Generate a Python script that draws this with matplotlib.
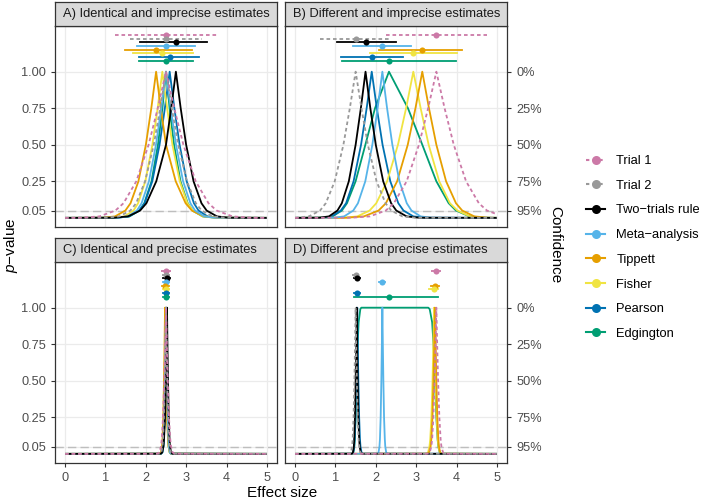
import matplotlib.pyplot as plt
from matplotlib.lines import Line2D
from matplotlib.patches import Rectangle

plt.rcParams["font.family"] = ["Liberation Sans", "DejaVu Sans"]
plt.rcParams["mathtext.fontset"] = "custom"
plt.rcParams["mathtext.rm"] = "Liberation Sans"
plt.rcParams["mathtext.it"] = "Liberation Sans:italic"

# legend order
methods = ["Trial 1", "Trial 2", "Two\u2212trials rule", "Meta\u2212analysis",
           "Tippett", "Fisher", "Pearson", "Edgington"]
colors = ["#CC79A7", "#999999", "#000000", "#56B4E9",
          "#E69F00", "#F0E442", "#0072B2", "#009E73"]

titles = ["A) Identical and imprecise estimates", "B) Different and imprecise estimates",
          "C) Identical and precise estimates", "D) Different and precise estimates"]

# p-values at which the lower / upper limits of each curve were read
levels = [0.001, 0.01, 0.05, 0.1, 0.25, 0.5, 0.75]

# A) identical, imprecise
est_a = [2.5, 2.5, 2.745, 2.5, 2.255, 2.409, 2.591, 2.5]
lo_a = [[0.394, 0.851, 1.246, 1.447, 1.764, 2.069, 2.296],
        [1.019, 1.341, 1.618, 1.760, 1.982, 2.197, 2.356],
        [1.215, 1.559, 1.859, 2.014, 2.259, 2.500, 2.629],
        [1.289, 1.552, 1.779, 1.895, 2.077, 2.252, 2.383],
        [0.934, 1.237, 1.493, 1.621, 1.817, 2.001, 2.136],
        [1.210, 1.470, 1.694, 1.808, 1.987, 2.163, 2.293],
        [1.280, 1.589, 1.833, 1.970, 2.160, 2.340, 2.472],
        [1.280, 1.593, 1.842, 1.962, 2.141, 2.301, 2.411]]
hi_a = [[2.704, 2.931, 3.236, 3.553, 3.754, 4.149, 4.606],
        [2.644, 2.803, 3.018, 3.240, 3.382, 3.659, 3.981],
        [2.864, 2.999, 3.183, 3.379, 3.507, 3.763, 4.066],
        [2.617, 2.748, 2.923, 3.105, 3.221, 3.448, 3.711],
        [2.371, 2.500, 2.741, 2.986, 3.141, 3.441, 3.785],
        [2.528, 2.660, 2.840, 3.030, 3.167, 3.411, 3.720],
        [2.707, 2.837, 3.013, 3.192, 3.306, 3.530, 3.790],
        [2.589, 2.699, 2.859, 3.038, 3.158, 3.407, 3.720]]

# B) different, imprecise
est_b = [3.5, 1.5, 1.745, 2.162, 3.151, 2.929, 1.899, 2.326]
lo_b = [[1.394, 1.851, 2.246, 2.447, 2.764, 3.069, 3.296],
        [0.019, 0.341, 0.618, 0.760, 0.982, 1.197, 1.356],
        [0.597, 0.839, 1.049, 1.158, 1.331, 1.500, 1.629],
        [0.951, 1.214, 1.441, 1.557, 1.739, 1.914, 2.045],
        [1.273, 1.704, 2.068, 2.249, 2.528, 2.791, 2.982],
        [1.211, 1.541, 1.846, 2.011, 2.280, 2.548, 2.750],
        [0.663, 0.915, 1.133, 1.263, 1.449, 1.634, 1.773],
        [0.664, 0.924, 1.158, 1.285, 1.499, 1.741, 1.980]]
hi_b = [[3.704, 3.931, 4.236, 4.553, 4.754, 5.149, 5.606],
        [1.644, 1.803, 2.018, 2.240, 2.382, 2.659, 2.981],
        [1.864, 1.999, 2.183, 2.379, 2.507, 2.763, 3.066],
        [2.279, 2.410, 2.585, 2.767, 2.883, 3.110, 3.373],
        [3.317, 3.500, 3.741, 3.986, 4.141, 4.441, 4.784],
        [3.111, 3.309, 3.571, 3.837, 4.022, 4.331, 4.690],
        [2.025, 2.167, 2.359, 2.558, 2.685, 2.931, 3.219],
        [2.796, 3.152, 3.500, 3.806, 3.986, 4.320, 4.689]]

# C) identical, precise
est_c = [2.5, 2.5, 2.525, 2.5, 2.476, 2.491, 2.509, 2.5]
lo_c = [[2.289, 2.335, 2.375, 2.395, 2.426, 2.457, 2.480],
        [2.352, 2.384, 2.412, 2.426, 2.448, 2.470, 2.486],
        [2.372, 2.406, 2.436, 2.451, 2.476, 2.500, 2.513],
        [2.379, 2.405, 2.428, 2.440, 2.458, 2.475, 2.488],
        [2.343, 2.374, 2.399, 2.412, 2.432, 2.450, 2.464],
        [2.371, 2.397, 2.419, 2.431, 2.449, 2.466, 2.479],
        [2.378, 2.409, 2.433, 2.447, 2.466, 2.484, 2.497],
        [2.378, 2.409, 2.434, 2.446, 2.464, 2.480, 2.491]]
hi_c = [[2.520, 2.543, 2.574, 2.605, 2.625, 2.665, 2.711],
        [2.514, 2.530, 2.552, 2.574, 2.588, 2.616, 2.648],
        [2.536, 2.550, 2.568, 2.588, 2.601, 2.626, 2.657],
        [2.512, 2.525, 2.542, 2.561, 2.572, 2.595, 2.621],
        [2.487, 2.500, 2.524, 2.549, 2.564, 2.594, 2.629],
        [2.503, 2.516, 2.534, 2.553, 2.567, 2.591, 2.622],
        [2.521, 2.534, 2.551, 2.569, 2.581, 2.603, 2.629],
        [2.509, 2.520, 2.536, 2.554, 2.566, 2.591, 2.622]]

# D) different, precise
est_d = [3.5, 1.5, 1.525, 2.162, 3.465, 3.443, 1.540, 2.33]
lo_d = [[3.289, 3.335, 3.375, 3.395, 3.426, 3.457, 3.480],
        [1.352, 1.384, 1.412, 1.426, 1.448, 1.470, 1.486],
        [1.410, 1.434, 1.455, 1.466, 1.483, 1.500, 1.513],
        [2.041, 2.067, 2.090, 2.102, 2.120, 2.137, 2.150],
        [3.277, 3.320, 3.357, 3.375, 3.403, 3.429, 3.448],
        [3.250, 3.293, 3.329, 3.348, 3.377, 3.405, 3.425],
        [1.416, 1.442, 1.463, 1.476, 1.495, 1.514, 1.527],
        [1.416, 1.442, 1.466, 1.479, 1.500, 1.525, 1.550]]
hi_d = [[3.520, 3.543, 3.574, 3.605, 3.625, 3.665, 3.711],
        [1.514, 1.530, 1.552, 1.574, 1.588, 1.616, 1.648],
        [1.536, 1.550, 1.568, 1.588, 1.601, 1.626, 1.657],
        [2.174, 2.187, 2.204, 2.223, 2.234, 2.257, 2.283],
        [3.482, 3.500, 3.524, 3.549, 3.564, 3.594, 3.628],
        [3.461, 3.481, 3.507, 3.534, 3.552, 3.583, 3.619],
        [1.553, 1.567, 1.587, 1.607, 1.620, 1.646, 1.676],
        [3.429, 3.465, 3.500, 3.531, 3.549, 3.582, 3.619]]
# Edgington in D has a flat top at p = 1
edg_top_d_x = [1.574, 1.616, 1.640, 3.300, 3.335, 3.396]
edg_top_d_p = [0.9, 0.99, 1.0, 1.0, 0.99, 0.9]

panels = [(est_a, lo_a, hi_a, None), (est_b, lo_b, hi_b, None),
          (est_c, lo_c, hi_c, None), (est_d, lo_d, hi_d, (edg_top_d_x, edg_top_d_p))]

W, H = 709, 500
fig = plt.figure(figsize=(W / 100, H / 100), dpi=100)

lefts = [55, 285, 55, 285]
tops = [26, 26, 262, 262]
pw, ph, sh = 222, 201, 24
lw = 1.3
dash = (2.0, 1.6)


def draw_curves(ax, est, lo, hi, edg_top):
    clip = Rectangle((0, -1), 5, 3, transform=ax.transData)
    order = [7, 6, 5, 4, 3, 2, 1, 0]  # trials end up on top
    for i in order:
        if i == 7 and edg_top is not None:
            tx, tp = edg_top
        else:
            tx, tp = [est[i]], [1.0]
        x = lo[i] + tx + hi[i]
        p = levels + tp + levels[::-1]
        if x[0] > 0:
            x, p = [0] + x, [0] + p
        if x[-1] < 5:
            x, p = x + [5], p + [0]
        ls = (0, dash) if i < 2 else "-"
        ln, = ax.plot(x, p, color=colors[i], lw=lw, ls=ls, zorder=3 + (8 - i) * 0.1)
        ln.set_clip_path(clip)
    # point estimates with 95% intervals above the curves
    for i in range(8):
        row = 1.25 - 0.025 * i
        ls = (0, dash) if i < 2 else "-"
        ax.plot([lo[i][2], hi[i][4]], [row, row], color=colors[i], lw=lw, ls=ls, zorder=4)
        ax.plot(est[i], row, "o", color=colors[i], ms=4.4, mew=0, zorder=5)


for k, (est, lo, hi, edg_top) in enumerate(panels):
    ax = fig.add_axes([lefts[k] / W, 1 - (tops[k] + ph) / H, pw / W, ph / H])
    ax.set_xlim(-0.25, 5.25)
    ax.set_ylim(-0.0625, 1.3125)
    ax.set_xticks(range(6))
    ax.set_yticks([0.05, 0.25, 0.5, 0.75, 1.0])
    ax.grid(color="#EBEBEB", lw=0.9)
    ax.set_axisbelow(True)
    ax.axhline(0.05, color="#BEBEBE", lw=1.0, dashes=(6, 3), zorder=2)
    for s in ax.spines.values():
        s.set_color("#333333")
        s.set_linewidth(0.9)
    ax.tick_params(colors="#333333", labelcolor="#4D4D4D", labelsize=9.2, length=3, width=0.8)
    if k < 2:
        ax.tick_params(bottom=False, labelbottom=False)
    if k % 2 == 0:
        ax.set_yticklabels(["0.05", "0.25", "0.50", "0.75", "1.00"])
    else:
        ax.yaxis.tick_right()
        ax.set_yticklabels(["95%", "75%", "50%", "25%", "0%"])
    draw_curves(ax, est, lo, hi, edg_top)

    sax = fig.add_axes([lefts[k] / W, 1 - tops[k] / H, pw / W, sh / H])
    sax.set_facecolor("#D9D9D9")
    sax.set_xticks([])
    sax.set_yticks([])
    for s in sax.spines.values():
        s.set_color("#333333")
        s.set_linewidth(0.9)
    sax.text(8 / pw, 0.5, titles[k], transform=sax.transAxes, ha="left", va="center",
             fontsize=9.3, color="#1A1A1A")

fig.text(282 / W, 1 - 493 / H, "Effect size", ha="center", va="center", fontsize=11)
fig.text(11 / W, 1 - 245 / H, "$\\it{p}$\u2212value", ha="center", va="center",
         rotation=90, fontsize=11)
fig.text(555 / W, 1 - 245 / H, "Confidence", ha="center", va="center",
         rotation=270, fontsize=11)

handles = [Line2D([], [], color=c, lw=1.5, ls=((0, (1.6, 1.6)) if i < 2 else "-"),
                  marker="o", ms=6.5, mew=0) for i, c in enumerate(colors)]
fig.legend(handles, methods, loc="upper left", bbox_to_anchor=(586 / W, 1 - 155 / H),
           frameon=False, fontsize=9.3, handlelength=1.5, handletextpad=0.85,
           labelspacing=0.98, borderpad=0, borderaxespad=0)

plt.savefig("out.png", dpi=100)
